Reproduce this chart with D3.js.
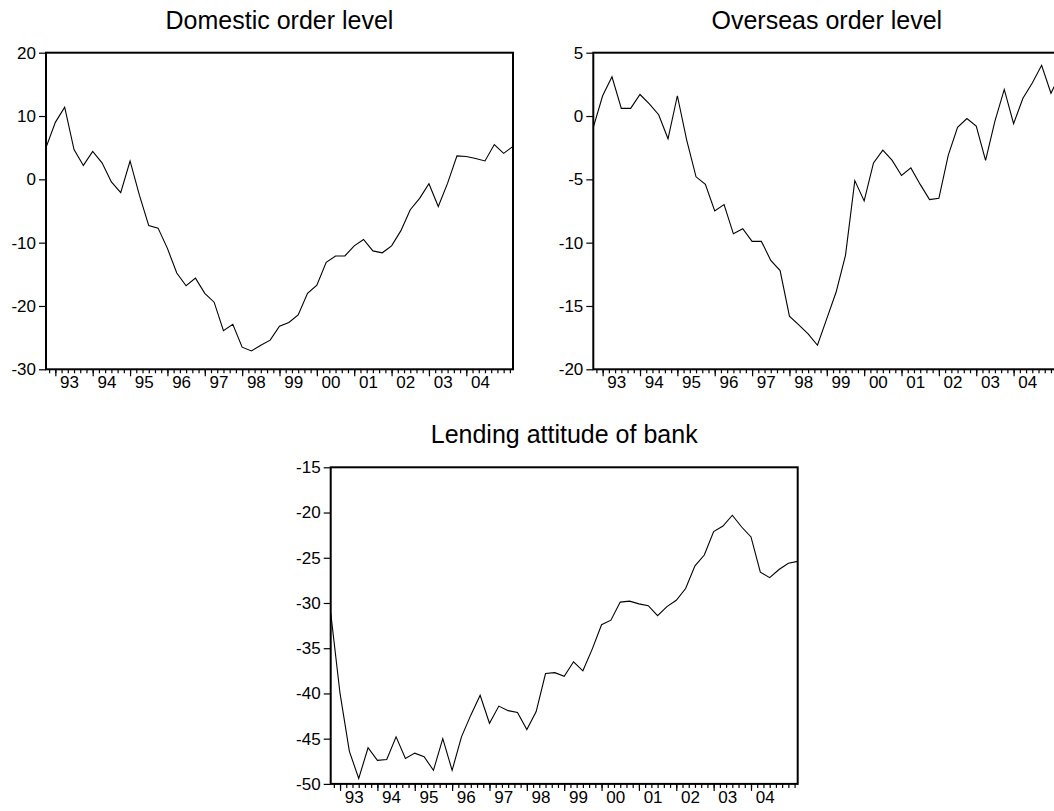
<!DOCTYPE html>
<html>
<head>
<meta charset="utf-8">
<script src="https://cdn.jsdelivr.net/npm/d3@7"></script>
<style>
  body { margin: 0; background: #fff; }
  svg text { font-family: Arial, "Liberation Sans", sans-serif; fill: #000; }
</style>
</head>
<body>
<svg id="chart" width="1054" height="811"></svg>
<script>
// quarterly observations, 1992Q4 .. 2005Q2
const quarters = [
  "1992Q4",
  "1993Q1","1993Q2","1993Q3","1993Q4","1994Q1","1994Q2","1994Q3","1994Q4",
  "1995Q1","1995Q2","1995Q3","1995Q4","1996Q1","1996Q2","1996Q3","1996Q4",
  "1997Q1","1997Q2","1997Q3","1997Q4","1998Q1","1998Q2","1998Q3","1998Q4",
  "1999Q1","1999Q2","1999Q3","1999Q4","2000Q1","2000Q2","2000Q3","2000Q4",
  "2001Q1","2001Q2","2001Q3","2001Q4","2002Q1","2002Q2","2002Q3","2002Q4",
  "2003Q1","2003Q2","2003Q3","2003Q4","2004Q1","2004Q2","2004Q3","2004Q4",
  "2005Q1","2005Q2"
];

const domestic = [
  5.0, 9.0, 11.4, 4.7, 2.2, 4.4, 2.6, -0.4, -2.1, 2.9, -2.5, -7.3, -7.7,
  -10.9, -14.8, -16.8, -15.6, -18.0, -19.4, -23.9, -22.9, -26.5, -27.1, -26.2,
  -25.4, -23.2, -22.6, -21.4, -18.0, -16.7, -13.1, -12.1, -12.1, -10.5, -9.5,
  -11.3, -11.6, -10.5, -8.1, -4.8, -3.0, -0.7, -4.3, -0.6, 3.7, 3.6, 3.3,
  2.9, 5.5, 4.1, 5.2
];

const overseas = [
  -0.9, 1.6, 3.1, 0.6, 0.6, 1.7, 0.95, 0.1, -1.8, 1.6, -1.9, -4.8, -5.4,
  -7.5, -7.0, -9.3, -8.9, -9.9, -9.9, -11.4, -12.2, -15.8, -16.5, -17.2,
  -18.1, -16.0, -13.9, -11.0, -5.1, -6.7, -3.7, -2.7, -3.5, -4.7, -4.1,
  -5.4, -6.6, -6.5, -3.1, -0.9, -0.2, -0.8, -3.5, -0.4, 2.1, -0.6, 1.4,
  2.6, 4.0, 1.8, 3.3
];

const lending = [
  -31.1, -40.0, -46.4, -49.4, -46.0, -47.4, -47.3, -44.8, -47.2, -46.6, -47.0,
  -48.5, -45.0, -48.5, -44.8, -42.4, -40.2, -43.3, -41.4, -41.9, -42.1, -44.0,
  -42.0, -37.8, -37.7, -38.1, -36.5, -37.5, -35.1, -32.4, -31.9, -29.9, -29.8,
  -30.1, -30.3, -31.4, -30.4, -29.7, -28.4, -25.9, -24.7, -22.1, -21.5, -20.3,
  -21.6, -22.7, -26.6, -27.2, -26.3, -25.6, -25.4
];

const yearLabels = ["93","94","95","96","97","98","99","00","01","02","03","04"];

const domesticTicks = [20, 10, 0, -10, -20, -30];
const overseasTicks = [5, 0, -5, -10, -15, -20];
const lendingTicks = [-15, -20, -25, -30, -35, -40, -45, -50];

// panel layout
const panelW = 467, panelH = 316.6;
const panels = [
  { title: "Domestic order level", values: domestic, ticks: domesticTicks, left: 46, top: 52.7 },
  { title: "Overseas order level", values: overseas, ticks: overseasTicks, left: 593.3, top: 52.7 },
  { title: "Lending attitude of bank", values: lending, ticks: lendingTicks, left: 330.7, top: 467.3 }
];

const svg = d3.select("#chart");

// quarter string -> decimal year
const toYear = q => +q.slice(0, 4) + (+q.slice(5) - 1) / 4;
const dates = quarters.map(toYear);

const x = d3.scaleLinear()
  .domain(d3.extent(dates))
  .range([0, panelW]);

const yearTicks = yearLabels.map(s => (+s < 50 ? 2000 : 1900) + +s);
let minorTicks = [];
for (let k = Math.ceil(x.domain()[0] * 6); k / 6 <= x.domain()[1]; k++) {
  minorTicks.push(k / 6);
}

const drawPanel = function (p) {
  let g = svg.append("g")
    .attr("transform", "translate(" + p.left + "," + p.top + ")");

  let y = d3.scaleLinear()
    .domain(d3.extent(p.ticks))
    .range([panelH, 0]);

  // y axis (plain hyphen for negatives, like the original)
  let ya = g.append("g")
    .call(d3.axisLeft(y)
      .tickValues(p.ticks)
      .tickFormat(d => String(d))
      .tickSize(7)
      .tickPadding(3));
  ya.select(".domain").remove();
  ya.selectAll("text").style("font-size", "17px");
  ya.selectAll("line").attr("stroke-width", 1.2);

  // x axis: minor + major ticks
  let xa = g.append("g")
    .attr("transform", "translate(0," + panelH + ")");
  xa.append("g")
    .call(d3.axisBottom(x).tickValues(minorTicks).tickSize(4).tickFormat(""))
    .select(".domain").remove();
  xa.append("g")
    .call(d3.axisBottom(x).tickValues(yearTicks).tickSize(7).tickFormat(""))
    .select(".domain").remove();
  xa.selectAll("line").attr("stroke-width", 1.2);

  xa.selectAll(".year-label")
    .data(yearLabels)
    .enter()
    .append("text")
    .attr("class", "year-label")
    .attr("x", (d, i) => x(yearTicks[i] + 0.38))
    .attr("y", 19)
    .attr("text-anchor", "middle")
    .style("font-size", "17px")
    .text(d => d);

  // series
  g.append("path")
    .datum(p.values)
    .attr("fill", "none")
    .attr("stroke", "#000")
    .attr("stroke-width", 1.1)
    .attr("d", d3.line()
      .x((d, i) => x(dates[i]))
      .y(d => y(d)));

  // frame
  g.append("rect")
    .attr("width", panelW)
    .attr("height", panelH)
    .attr("fill", "none")
    .attr("stroke", "#000")
    .attr("stroke-width", 2);

  // title
  g.append("text")
    .attr("x", panelW / 2)
    .attr("y", -24)
    .attr("text-anchor", "middle")
    .style("font-size", "25px")
    .text(p.title);
};

panels.forEach(drawPanel);
</script>
</body>
</html>
